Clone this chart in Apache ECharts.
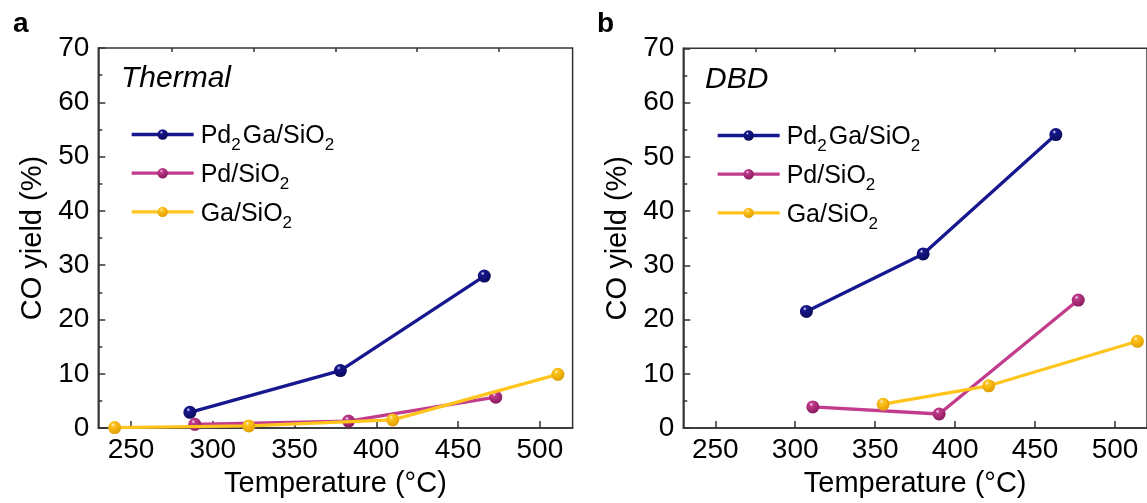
<!DOCTYPE html>
<html>
<head>
<meta charset="utf-8">
<script src="https://cdn.jsdelivr.net/npm/echarts@6/dist/echarts.min.js"></script>
<style>
  html, body { margin: 0; padding: 0; background: #ffffff; }
  #chart { width: 1147px; height: 503px; }
</style>
</head>
<body>
<div id="chart"></div>
<script>
// Catalyst names, in legend order
const seriesNames = ['Pd2Ga/SiO2', 'Pd/SiO2', 'Ga/SiO2'];

// Panel a: thermal catalysis, temperature (°C) and CO yield (%)
const thermalPd2GaT = [286, 378, 466];
const thermalPd2GaY = [2.9, 10.6, 28.0];
const thermalPdT = [289, 383, 473];
const thermalPdY = [0.7, 1.3, 5.7];
const thermalGaT = [240, 322, 410, 511];
const thermalGaY = [0.1, 0.4, 1.5, 9.9];

// Panel b: DBD plasma catalysis
const dbdPd2GaT = [307, 380, 463];
const dbdPd2GaY = [21.5, 32.1, 54.1];
const dbdPdT = [311, 390, 477];
const dbdPdY = [3.9, 2.6, 23.6];
const dbdGaT = [355, 421, 514];
const dbdGaY = [4.4, 7.8, 16.0];

// Axis ticks
const xTicks = [250, 300, 350, 400, 450, 500];
const xMinorTicks = [275, 325, 375, 425, 475];
const panelLabels = ['a', 'b'];
const panelTitles = ['Thermal', 'DBD'];

const FONT = '"Liberation Sans", Arial, Helvetica, sans-serif';
const AXIS_COLOR = '#333333';

const lineColors = ['#17178f', '#c23b8c', '#ffc51c'];
const darkColors = ['#0a0a58', '#86195e', '#e09c00'];

function sphere(i) {
  return new echarts.graphic.RadialGradient(0.38, 0.3, 0.72, [
    { offset: 0, color: '#f2f2ff' },
    { offset: 0.2, color: lineColors[i] },
    { offset: 1, color: darkColors[i] }
  ]);
}

function pairs(xs, ys) {
  return xs.map((x, i) => [x, ys[i]]);
}

const legendRich = {
  'Pd2Ga/SiO2': '{n|Pd}{s|2}{n|Ga/SiO}{s|2}',
  'Pd/SiO2': '{n|Pd/SiO}{s|2}',
  'Ga/SiO2': '{n|Ga/SiO}{s|2}'
};

const grids = [
  { left: 98.3, top: 48, width: 474.3, height: 382 },
  { left: 683.3, top: 48.3, width: 475.2, height: 382 }
];

const gridOpts = grids.map(g => Object.assign({
  show: true,
  borderColor: AXIS_COLOR,
  borderWidth: 1.5,
  backgroundColor: 'transparent',
  containLabel: false
}, g));

const xAxes = [];
const yAxes = [];
grids.forEach((g, i) => {
  xAxes.push({
    type: 'value', gridIndex: i, min: 230, max: 520,
    axisLine: { show: true, lineStyle: { color: AXIS_COLOR, width: 1.5 } },
    axisTick: { show: true, inside: true, length: 7, customValues: xTicks,
      lineStyle: { color: AXIS_COLOR, width: 1.5 } },
    axisLabel: { customValues: xTicks, fontFamily: FONT, fontSize: 28, color: '#000', margin: 8 },
    splitLine: { show: false },
    name: 'Temperature (°C)', nameLocation: 'middle', nameGap: 40,
    nameTextStyle: { fontFamily: FONT, fontSize: 29, color: '#000' }
  });
  xAxes.push({
    type: 'value', gridIndex: i, min: 230, max: 520,
    axisLine: { show: false },
    axisTick: { show: true, inside: true, length: 4, customValues: xMinorTicks,
      lineStyle: { color: AXIS_COLOR, width: 1.5 } },
    axisLabel: { show: false },
    splitLine: { show: false }
  });
  yAxes.push({
    type: 'value', gridIndex: i, min: 0, max: 70, interval: 10,
    axisLine: { show: true, lineStyle: { color: AXIS_COLOR, width: 1.5 } },
    axisTick: { show: true, inside: true, length: 7, lineStyle: { color: AXIS_COLOR, width: 1.5 } },
    minorTick: { show: true, splitNumber: 2, length: 4, lineStyle: { color: AXIS_COLOR, width: 1.5 } },
    axisLabel: { fontFamily: FONT, fontSize: 28, color: '#000', margin: 9 },
    splitLine: { show: false },
    name: 'CO yield (%)', nameLocation: 'middle', nameGap: 51,
    nameTextStyle: { fontFamily: FONT, fontSize: 29, color: '#000' }
  });
});

const panelData = [
  [pairs(thermalPd2GaT, thermalPd2GaY), pairs(thermalPdT, thermalPdY), pairs(thermalGaT, thermalGaY)],
  [pairs(dbdPd2GaT, dbdPd2GaY), pairs(dbdPdT, dbdPdY), pairs(dbdGaT, dbdGaY)]
];

const series = [];
panelData.forEach((sets, p) => {
  sets.forEach((data, k) => {
    series.push({
      type: 'line',
      name: seriesNames[k],
      xAxisIndex: p * 2,
      yAxisIndex: p,
      data: data,
      symbol: 'circle',
      symbolSize: 13,
      showAllSymbol: true,
      z: 2 + k,
      lineStyle: { color: lineColors[k], width: 3.3 },
      itemStyle: { color: sphere(k), borderWidth: 0 },
      emphasis: { disabled: true }
    });
  });
});

const legendLeft = [130, 716];
const legendTop = [122, 123];
const legends = legendLeft.map((left, i) => ({
  orient: 'vertical',
  left: left,
  top: legendTop[i],
  padding: 0,
  itemWidth: 62,
  itemHeight: 13,
  itemGap: 6.7,
  selectedMode: false,
  data: seriesNames,
  formatter: name => legendRich[name],
  lineStyle: { width: 3.3 },
  textStyle: {
    fontFamily: FONT, color: '#000',
    rich: {
      n: { fontFamily: FONT, fontSize: 25, lineHeight: 25, color: '#000',
           padding: [2, 0, 0, 2], verticalAlign: 'top' },
      s: { fontFamily: FONT, fontSize: 17, lineHeight: 17, color: '#000',
           padding: [15, 0, 0, 0], verticalAlign: 'top' }
    }
  }
}));

const titles = [
  { text: panelLabels[0], left: 8, top: 5, textStyle: { fontFamily: FONT, fontSize: 28, fontWeight: 'bold', color: '#000' } },
  { text: panelLabels[1], left: 592, top: 5, textStyle: { fontFamily: FONT, fontSize: 28, fontWeight: 'bold', color: '#000' } },
  { text: panelTitles[0], left: 116, top: 59, textStyle: { fontFamily: FONT, fontSize: 30, fontStyle: 'italic', fontWeight: 'normal', color: '#000' } },
  { text: panelTitles[1], left: 700, top: 60, textStyle: { fontFamily: FONT, fontSize: 30, fontStyle: 'italic', fontWeight: 'normal', color: '#000' } }
];

const chart = echarts.init(document.getElementById('chart'), null, { renderer: 'canvas' });
chart.setOption({
  animation: false,
  backgroundColor: '#ffffff',
  title: titles,
  legend: legends,
  grid: gridOpts,
  xAxis: xAxes,
  yAxis: yAxes,
  series: series
});
</script>
</body>
</html>
